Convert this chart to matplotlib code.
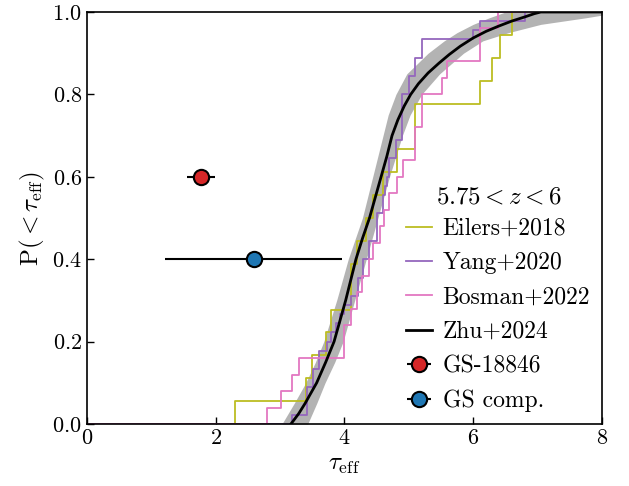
import numpy as np
import matplotlib
matplotlib.use("Agg")
import matplotlib.pyplot as plt

plt.rcParams['font.family'] = 'serif'
plt.rcParams['font.serif'] = ['cmr10']
plt.rcParams['mathtext.fontset'] = 'cm'
plt.rcParams['axes.formatter.use_mathtext'] = True

#%% DATA
# sorted tau_eff values of each sample
eilers = [2.30, 3.40, 3.50, 3.71, 3.80, 4.11, 4.11, 4.20, 4.33, 4.45, 4.60, 4.81,
          5.09, 5.09, 6.10, 6.30, 6.41, 6.60]
yang = [3.18, 3.42, 3.42, 3.42, 3.51, 3.51, 3.60, 3.60, 3.73, 3.80, 3.87, 3.93,
        4.00, 4.10, 4.21, 4.21, 4.29, 4.29, 4.39, 4.39, 4.51, 4.51, 4.51, 4.60,
        4.60, 4.63, 4.66, 4.69, 4.69, 4.80, 4.80, 4.90, 4.90, 4.90, 4.90, 4.90,
        5.00, 5.00, 5.09, 5.09, 5.20, 5.20, 6.00, 6.10, 6.80]
bosman = [2.80, 3.01, 3.19, 3.30, 4.00, 4.00, 4.11, 4.20, 4.28, 4.38, 4.45, 4.55,
          4.62, 4.70, 4.81, 4.91, 5.09, 5.09, 5.20, 5.20, 5.51, 5.60, 6.11, 6.11, 6.39]

# Zhu+2024 model CDF and its band
zhu_tau = [3.17, 3.29, 3.39, 3.48, 3.57, 3.71, 3.84, 3.93, 4.02, 4.10, 4.18, 4.28,
           4.39, 4.48, 4.57, 4.66, 4.74, 4.83, 4.93, 5.03, 5.15, 5.30, 5.47, 5.63,
           5.80, 6.00, 6.20, 6.40, 6.60, 6.80, 6.95, 7.05, 8.00]
zhu_cdf = [0.0, 0.025, 0.05, 0.075, 0.10, 0.15, 0.20, 0.25, 0.30, 0.35, 0.40, 0.45,
           0.50, 0.55, 0.60, 0.65, 0.70, 0.738, 0.772, 0.80, 0.826, 0.852, 0.876, 0.897,
           0.917, 0.937, 0.953, 0.966, 0.978, 0.988, 0.996, 1.0, 1.0]
band_y = [0.0, 0.05, 0.1, 0.15, 0.2, 0.3, 0.4, 0.5, 0.6, 0.7, 0.75, 0.8, 0.85, 0.9,
          0.93, 0.95, 0.97, 0.986, 1.0]
band_lo = [3.03, 3.22, 3.40, 3.55, 3.68, 3.88, 4.06, 4.28, 4.44, 4.60, 4.68, 4.80,
           4.97, 5.30, 5.55, 5.75, 6.00, 6.25, 6.50]
band_hi = [3.43, 3.57, 3.70, 3.85, 3.98, 4.16, 4.34, 4.52, 4.70, 4.90, 5.02, 5.20,
           5.48, 5.85, 6.15, 6.55, 7.05, 7.75, 8.30]

# our measurements
gs_tau, gs_err, gs_p = 1.77, 0.22, 0.6
comp_tau, comp_err, comp_p = 2.59, 1.38, 0.4


def cdf_steps(vals):
    n = len(vals)
    x = np.concatenate([[0.0], vals, [8.0]])
    y = np.concatenate([[0.0], np.arange(1, n + 1) / n, [1.0]])
    return x, y


#%% PLOT
fig = plt.figure(figsize=(6.29, 4.86), dpi=100)
ax = fig.add_axes([0.138, 0.1276, 0.819, 0.8477])

ax.fill_betweenx(band_y, band_lo, band_hi, color='#b3b3b3', lw=0, zorder=1)

for vals, col, lab in [(eilers, 'tab:olive', 'Eilers+2018'),
                       (yang, 'tab:purple', 'Yang+2020'),
                       (bosman, 'tab:pink', 'Bosman+2022')]:
    x, y = cdf_steps(vals)
    ax.step(x, y, where='post', color=col, lw=1.3, label=lab, zorder=2)

ax.plot(zhu_tau, zhu_cdf, color='k', lw=2, label='Zhu+2024', zorder=3)

ax.errorbar(gs_tau, gs_p, xerr=gs_err, fmt='o', color='k', mfc='tab:red', mec='k',
            mew=1.5, ms=11, elinewidth=1.5, capsize=0, label='GS-18846', zorder=4)
ax.errorbar(comp_tau, comp_p, xerr=comp_err, fmt='o', color='k', mfc='tab:blue', mec='k',
            mew=1.5, ms=11, elinewidth=1.5, capsize=0, label='GS comp.', zorder=4)

ax.set_xlim(0, 8)
ax.set_ylim(0, 1)
ax.set_xticks([0, 2, 4, 6, 8])
ax.set_yticks([0.0, 0.2, 0.4, 0.6, 0.8, 1.0])
ax.tick_params(direction='in', labelsize=16, length=5, width=1, top=False, right=False)
for s in ax.spines.values():
    s.set_linewidth(1.2)
ax.set_xlabel(r'$\tau_{\rm eff}$', fontsize=18)
ax.set_ylabel(r'P$(<\tau_{\rm eff})$', fontsize=18)

ax.legend(loc='lower right', bbox_to_anchor=(1.0, 0.0),
          frameon=False, fontsize=17, handlelength=1.1,
          handletextpad=0.45, labelspacing=0.52, borderaxespad=0.1)
ax.text(0.80, 0.551, r'$5.75 < z < 6$', transform=ax.transAxes, fontsize=18,
        ha='center', va='center')

fig.savefig('out.png', dpi=100)
